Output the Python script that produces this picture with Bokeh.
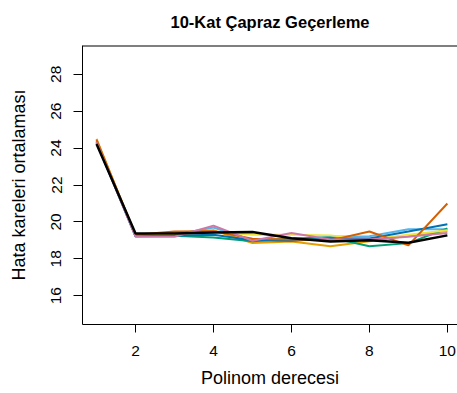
from bokeh.plotting import figure
from bokeh.models import FixedTicker, Range1d, Span
from bokeh.embed import file_html
from bokeh.resources import INLINE

# Data
degree = [1, 2, 3, 4, 5, 6, 7, 8, 9, 10]
cv_orange = [24.50, 19.25, 19.40, 19.55, 18.86, 18.94, 18.68, 18.95, 19.25, 19.50]
cv_skyblue = [24.40, 19.22, 19.30, 19.70, 19.00, 19.05, 19.20, 19.22, 19.60, 19.60]
cv_green = [24.35, 19.25, 19.25, 19.16, 18.95, 19.10, 19.15, 18.68, 18.85, 19.65]
cv_yellow = [24.38, 19.28, 19.35, 19.45, 19.30, 19.30, 19.27, 19.05, 19.30, 19.55]
cv_blue = [24.30, 19.22, 19.25, 19.30, 19.00, 18.98, 19.10, 19.10, 19.48, 19.87]
cv_vermillion = [24.45, 19.30, 19.48, 19.50, 19.09, 19.05, 19.00, 19.48, 18.73, 21.00]
cv_pink = [24.33, 19.20, 19.20, 19.80, 18.98, 19.40, 19.05, 19.05, 19.20, 19.40]
cv_black = [24.22, 19.37, 19.37, 19.43, 19.45, 19.12, 18.94, 19.00, 18.87, 19.27]

series = [
    (cv_orange, "#E69F00"),
    (cv_skyblue, "#56B4E9"),
    (cv_green, "#009E73"),
    (cv_yellow, "#F0E442"),
    (cv_blue, "#0072B2"),
    (cv_vermillion, "#D55E00"),
    (cv_pink, "#CC79A7"),
    (cv_black, "#000000"),
]

x_ticks = [2, 4, 6, 8, 10]
y_ticks = [16, 18, 20, 22, 24, 26, 28]

FONT = "Liberation Sans"
Y_TOP = 29.56

p = figure(width=457, height=393, output_backend="svg", toolbar_location=None,
           x_range=Range1d(0.64, 10.26), y_range=Range1d(14.44, Y_TOP),
           min_border_left=82, min_border_right=0, min_border_top=42,
           min_border_bottom=69, title="10-Kat Çapraz Geçerleme")

p.title.align = "center"
p.title.vertical_align = "top"
p.title.text_font = FONT
p.title.text_font_size = "16.5px"
p.title.text_font_style = "bold"
p.title.text_color = "black"
p.title.standoff = 25

p.grid.visible = False
p.outline_line_color = None
p.background_fill_color = "white"
p.border_fill_color = "white"

xax = p.below[0]
yax = p.left[0]

for ax in (xax, yax):
    ax.axis_line_color = "black"
    ax.major_tick_line_color = "black"
    ax.minor_tick_line_color = None
    ax.major_tick_in = 0
    ax.major_tick_out = 8
    ax.major_label_text_font = FONT
    ax.major_label_text_font_size = "15.5px"
    ax.major_label_text_color = "black"
    ax.axis_label_text_font = FONT
    ax.axis_label_text_font_size = "18px"
    ax.axis_label_text_font_style = "normal"
    ax.axis_label_text_color = "black"

xax.ticker = FixedTicker(ticks=x_ticks)
xax.axis_label = "Polinom derecesi"
xax.major_label_standoff = 13
xax.axis_label_standoff = 9

yax.ticker = FixedTicker(ticks=y_ticks)
yax.axis_label = "Hata kareleri ortalaması"
yax.major_label_orientation = "vertical"
yax.major_tick_out = 9
yax.major_label_standoff = 12
yax.axis_label_standoff = 20

# top border of the box (the right side is cut off by the window in the reference)
p.add_layout(Span(location=Y_TOP, dimension="width", line_color="black", line_width=2))

for vals, col in series:
    lw = 2.5 if col == "#000000" else 2
    p.line(degree, vals, line_color=col, line_width=lw)

open("out.html", "w").write(file_html(p, INLINE))
